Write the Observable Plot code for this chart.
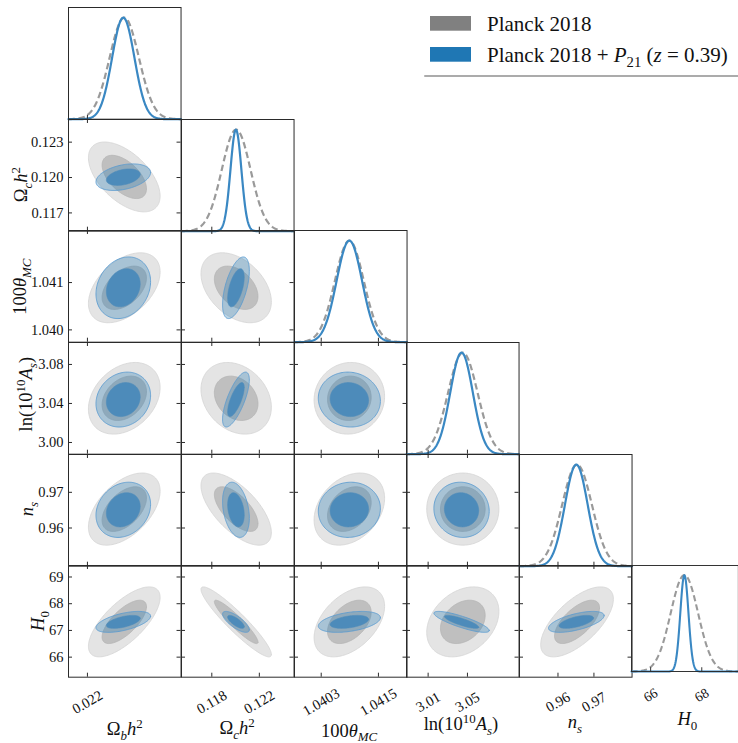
<!DOCTYPE html>
<html>
<head>
<meta charset="utf-8">
<script src="https://cdn.jsdelivr.net/npm/d3@7"></script>
<script src="https://cdn.jsdelivr.net/npm/@observablehq/plot@0.6"></script>
<style>
  body { margin: 0; background: #fff; }
  #fig { position: relative; width: 738px; height: 743px; overflow: hidden; background: #fff; }
  .panel { position: absolute; }
  .panel svg { overflow: visible; display: block; }
</style>
</head>
<body>
<div id="fig"></div>
<script>
// ---- cosmological parameters, in row/column order ----
const paramKeys = ["omegabh2", "omegach2", "theta", "logA", "ns", "H0"];

// plotted range of every parameter (shared by its row and its column)
const axisLo = [0.02181, 0.11545, 1.03974, 2.9880, 0.9493, 65.25];
const axisHi = [0.02294, 0.12492, 1.04210, 3.1025, 0.9806, 69.43];

// ticks along the x axes (bottom row) and y axes (left column)
const xTicks = [[0.022], [0.118, 0.122], [1.0403, 1.0415], [3.01, 3.05], [0.96, 0.97], [66, 68]];
const xTickLabels = [["0.022"], ["0.118", "0.122"], ["1.0403", "1.0415"], ["3.01", "3.05"], ["0.96", "0.97"], ["66", "68"]];
const yTicks = [[], [0.117, 0.120, 0.123], [1.040, 1.041], [3.00, 3.04, 3.08], [0.96, 0.97], [66, 67, 68, 69]];
const yTickLabels = [[], ["0.117", "0.120", "0.123"], ["1.040", "1.041"], ["3.00", "3.04", "3.08"], ["0.96", "0.97"], ["66", "67", "68", "69"]];

// Planck 2018 posterior: means and standard deviations
const planckMean = [0.02237, 0.12005, 1.04089, 3.0453, 0.9653, 67.32];
const planckSigma = [0.000147, 0.00121, 0.000302, 0.0150, 0.00413, 0.535];

// Planck 2018 + P21 (z = 0.39) posterior
const comboMean = [0.02236, 0.12003, 1.04089, 3.0440, 0.9651, 67.32];
const comboSigma = [0.000112, 0.00046, 0.000266, 0.0115, 0.00316, 0.160];

// correlation coefficients for each parameter pair
const pairs = [[0,1],[0,2],[0,3],[0,4],[0,5],[1,2],[1,3],[1,4],[1,5],[2,3],[2,4],[2,5],[3,4],[3,5],[4,5]];
const planckRho = [-0.55, 0.45, 0.30, 0.50, 0.70, -0.40, -0.25, -0.65, -0.93, 0.05, 0.30, 0.45, 0.00, 0.30, 0.65];
const comboRho  = [0.35, 0.20, 0.15, 0.20, 0.55, 0.55, 0.72, -0.30, -0.75, -0.05, 0.05, 0.40, -0.05, -0.83, 0.60];

// legend entries
const legendNames = ["Planck 2018", "Planck 2018 + P21 (z = 0.39)"];
const legendColors = ["#808080", "#1f77b4"];

// ---- layout ----
const FONT = '"Liberation Serif", "DejaVu Serif", serif';
const COLW = 112.55, ROWH = 111.7, LEFT = 68.4, TOP = 6.8, TICK = 4;
const K68 = Math.sqrt(2.2958), K95 = Math.sqrt(5.9915); // 2-d credible radii
const fig = document.getElementById("fig");

function rhoOf(list, i, j) {
  return list[pairs.findIndex(([a, b]) => a === i && b === j)];
}

// credible-region outline of a bivariate normal
function ellipse(mean, sigma, rho, i, j, k) {
  const pts = [], s = Math.sqrt(1 - rho * rho), n = 160;
  for (let a = 0; a < n; ++a) {
    const t = (2 * Math.PI * a) / n, u = Math.cos(t), v = Math.sin(t);
    pts.push({x: mean[i] + k * sigma[i] * u, y: mean[j] + k * sigma[j] * (rho * u + s * v)});
  }
  return pts;
}

// normalised 1-d marginal
function profile(mean, sigma, i) {
  const lo = axisLo[i], hi = axisHi[i], pts = [], n = 300;
  for (let a = 0; a <= n; ++a) {
    const x = lo + ((hi - lo) * a) / n, z = (x - mean[i]) / sigma[i];
    pts.push({x, y: Math.exp(-0.5 * z * z)});
  }
  return pts;
}

function mount(svg, col, row) {
  const div = document.createElement("div");
  div.className = "panel";
  div.style.left = LEFT + col * COLW + "px";
  div.style.top = TOP + row * ROWH + "px";
  div.appendChild(svg);
  fig.appendChild(div);
}

const ink = {stroke: "#2a2a2a", strokeWidth: 1};
const TICK_FONT = 14.5;

for (let r = 0; r < 6; ++r) {
  for (let c = 0; c <= r; ++c) {
    const marks = [];
    if (r === c) {
      marks.push(Plot.line(profile(planckMean, planckSigma, c), {
        x: "x", y: "y", stroke: "#9a9a9a", strokeWidth: 2.2, strokeDasharray: "6.5,3.5", strokeLinecap: "butt"
      }));
      marks.push(Plot.line(profile(comboMean, comboSigma, c), {
        x: "x", y: "y", stroke: "#3a88c3", strokeWidth: 2.2
      }));
      marks.push(Plot.tickX(xTicks[c], {x: (d) => d, insetTop: ROWH - TICK, ...ink}));
    } else {
      const rp = rhoOf(planckRho, c, r), rc = rhoOf(comboRho, c, r);
      marks.push(Plot.line(ellipse(planckMean, planckSigma, rp, c, r, K95), {
        x: "x", y: "y", fill: "#e4e4e4", stroke: "#d4d4d4", strokeWidth: 0.8, curve: "linear-closed"
      }));
      marks.push(Plot.line(ellipse(planckMean, planckSigma, rp, c, r, K68), {
        x: "x", y: "y", fill: "#bfbfbf", stroke: "#b4b4b4", strokeWidth: 0.8, curve: "linear-closed"
      }));
      marks.push(Plot.line(ellipse(comboMean, comboSigma, rc, c, r, K95), {
        x: "x", y: "y", fill: "#1f77b4", fillOpacity: 0.3, stroke: "#5a9bd0", strokeOpacity: 0.85, strokeWidth: 1, curve: "linear-closed"
      }));
      marks.push(Plot.line(ellipse(comboMean, comboSigma, rc, c, r, K68), {
        x: "x", y: "y", fill: "#4d8bba", stroke: "#4d8bba", strokeWidth: 0.6, curve: "linear-closed"
      }));
      // inward ticks on all four sides
      marks.push(Plot.tickX(xTicks[c], {x: (d) => d, insetTop: ROWH - TICK, ...ink}));
      marks.push(Plot.tickX(xTicks[c], {x: (d) => d, insetBottom: ROWH - TICK, ...ink}));
      marks.push(Plot.tickY(yTicks[r], {y: (d) => d, insetRight: COLW - TICK, ...ink}));
      marks.push(Plot.tickY(yTicks[r], {y: (d) => d, insetLeft: COLW - TICK, ...ink}));
      if (c === 0) {
        marks.push(Plot.text(yTicks[r], {
          y: (d) => d, frameAnchor: "left", text: (d, i) => yTickLabels[r][i],
          textAnchor: "end", lineAnchor: "middle", dx: -5, fontSize: TICK_FONT, fontFamily: FONT, fill: "#111"
        }));
      }
    }
    if (r === 5) {
      marks.push(Plot.text(xTicks[c], {
        x: (d) => d, frameAnchor: "bottom", text: (d, i) => xTickLabels[c][i],
        rotate: -30, dy: 25, textAnchor: "middle", lineAnchor: "middle", fontSize: TICK_FONT, fontFamily: FONT, fill: "#111"
      }));
    }
    marks.push(Plot.frame(ink));
    const svg = Plot.plot({
      width: COLW,
      height: ROWH,
      margin: 0,
      x: {domain: [axisLo[c], axisHi[c]], axis: null},
      y: {domain: r === c ? [0, 1.1] : [axisLo[r], axisHi[r]], axis: null},
      style: {overflow: "visible", background: "transparent"},
      marks
    });
    mount(svg, c, r);
  }
}

// ---- axis labels and legend ----
const over = d3.select(fig).append("svg")
  .attr("width", 738).attr("height", 743)
  .style("position", "absolute").style("left", "0px").style("top", "0px")
  .style("overflow", "visible")
  .attr("font-family", FONT);

function richText(parent, parts, size) {
  const t = parent.append("text").attr("text-anchor", "middle").attr("font-size", size).attr("fill", "#111");
  let off = 0;
  for (const [str, fmt = {}] of parts) {
    const target = fmt.sub ? 0.26 * size : fmt.sup ? -0.4 * size : 0;
    const ts = t.append("tspan").text(str).attr("dy", target - off);
    off = target;
    if (fmt.it) ts.attr("font-style", "italic");
    if (fmt.sub || fmt.sup) ts.attr("font-size", 0.7 * size);
  }
  return t;
}

const axisLabels = [
  [["Ω"], ["b", {sub: 1, it: 1}], ["h", {it: 1}], ["2", {sup: 1}]],
  [["Ω"], ["c", {sub: 1, it: 1}], ["h", {it: 1}], ["2", {sup: 1}]],
  [["100"], ["θ", {it: 1}], ["MC", {sub: 1, it: 1}]],
  [["ln(10"], ["10", {sup: 1}], ["A", {it: 1}], ["s", {sub: 1, it: 1}], [")"]],
  [["n", {it: 1}], ["s", {sub: 1, it: 1}]],
  [["H", {it: 1}], ["0", {sub: 1}]]
];
const LABEL_SIZE = 18.5;

// bottom labels: column centre and baseline
const bottomX = [124.7, 237, 349, 461, 575, 687.3];
const bottomY = [735, 734, 736.5, 730, 728, 725];
axisLabels.forEach((parts, i) => {
  const g = over.append("g").attr("transform", `translate(${bottomX[i]},${bottomY[i]})`);
  richText(g, parts, LABEL_SIZE);
});

// left labels (rows 2..6): baseline x and centre y
const leftX = [27, 26, 32, 33, 44];
const leftY = [184.7, 286.7, 394.2, 509, 621];
for (let i = 1; i < 6; ++i) {
  const g = over.append("g").attr("transform", `translate(${leftX[i - 1]},${leftY[i - 1]}) rotate(-90)`);
  richText(g, axisLabels[i], LABEL_SIZE);
}

// legend
const legend = over.append("g");
legend.append("line").attr("x1", 425).attr("x2", 738).attr("y1", 76).attr("y2", 76)
  .attr("stroke", "#ababab").attr("stroke-width", 2).attr("stroke-linecap", "round");
[16, 47].forEach((y, i) => {
  legend.append("rect").attr("x", 430).attr("y", y).attr("width", 41).attr("height", 14.7).attr("fill", legendColors[i]);
});
const legendParts = [
  [[legendNames[0]]],
  [["Planck 2018 + "], ["P", {it: 1}], ["21", {sub: 1}], [" ("], ["z", {it: 1}], [" = 0.39)"]]
];
[30.5, 61.5].forEach((y, i) => {
  const g = legend.append("g").attr("transform", `translate(487,${y})`);
  richText(g, legendParts[i], 21).attr("text-anchor", "start");
});
</script>
</body>
</html>
